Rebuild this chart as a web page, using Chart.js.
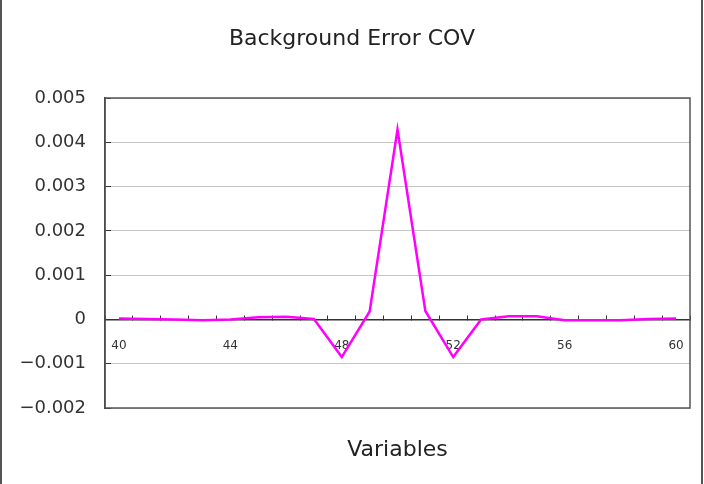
<!DOCTYPE html>
<html>
<head>
<meta charset="utf-8">
<script src="https://cdn.jsdelivr.net/npm/chart.js@4"></script>
<style>
  html, body { margin: 0; padding: 0; background: #fff; }
  #box { width: 704px; height: 484px; }
</style>
</head>
<body>
<div id="box"><canvas id="grafico" width="704" height="484"></canvas></div>
<script>
// categorie (variabili 40..60)
var variabili = ["40","41","42","43","44","45","46","47","48","49","50",
                 "51","52","53","54","55","56","57","58","59","60"];
// valori della covarianza
var covarianza = [0.00002, 0.00001, 0, -0.00002, 0, 0.00005, 0.00006, 0.00001, -0.00085, 0.00018, 0.00429,
                  0.00019, -0.00085, 0, 0.00007, 0.00007, -0.00002, -0.00002, -0.00002, 0.00001, 0.00002];
var etichetteX = ["40","44","48","52","56","60"];
var yMin = -0.002, yMax = 0.005, yPasso = 0.001;

var font = "'DejaVu Sans', sans-serif";

// cornice esterna e bordo dell'area del grafico
var cornice = {
    id: "cornice",
    beforeDraw: function(chart){
        let ctx = chart.ctx;
        ctx.save();
        ctx.fillStyle = "#fff";
        ctx.fillRect(0, 0, chart.width, chart.height);
        ctx.restore();
    },
    afterDraw: function(chart){
        let ctx = chart.ctx, a = chart.chartArea;
        ctx.save();
        ctx.strokeStyle = "#555";
        ctx.lineWidth = 1.5;
        ctx.strokeRect(a.left, a.top, a.right - a.left, a.bottom - a.top);
        ctx.fillStyle = "#555";
        ctx.fillRect(0, 0, 2, chart.height);
        ctx.fillRect(701, 0, 2, chart.height);
        ctx.restore();
    }
};

function formatoY(v){
    if (Math.abs(v) < 1e-9) return "0";
    let s = Math.abs(v).toFixed(3);
    return v < 0 ? "\u2212" + s : s;
}

window.onload = function(){
    let canvas = document.getElementById("grafico");
    new Chart(canvas, {
        type: "line",
        data: {
            labels: variabili,
            datasets: [{
                label: "COV",
                data: covarianza,
                borderColor: "#ff00ff",
                borderWidth: 2.5,
                pointRadius: 0,
                tension: 0,
                fill: false
            }]
        },
        options: {
            responsive: false,
            animation: false,
            layout: { padding: { left: 14, right: 14, top: 0, bottom: 0 } },
            plugins: {
                legend: { display: false },
                tooltip: { enabled: false },
                title: {
                    display: true,
                    text: "Background Error COV",
                    color: "#222",
                    font: { family: font, size: 22, weight: "normal" },
                    padding: { top: 26, bottom: 45.6 }
                },
                subtitle: {
                    display: true,
                    position: "bottom",
                    fullSize: false,
                    text: "Variables",
                    color: "#222",
                    font: { family: font, size: 22, weight: "normal" },
                    padding: { top: 28.8, bottom: 20.8 }
                }
            },
            scales: {
                x: {
                    type: "category",
                    position: { y: 0 },
                    offset: true,
                    afterFit: function(scale){ scale.paddingLeft = 0; scale.paddingRight = 0; },
                    grid: {
                        display: true,
                        offset: true,
                        drawOnChartArea: false,
                        drawTicks: true,
                        tickLength: -5,
                        tickColor: "#333",
                        tickWidth: 1
                    },
                    border: { display: true, color: "#333", width: 1.5 },
                    ticks: {
                        autoSkip: false,
                        maxRotation: 0,
                        padding: 24,
                        color: "#333",
                        font: { family: font, size: 12 },
                        callback: function(val, i){
                            let l = this.getLabelForValue(val);
                            return etichetteX.includes(l) ? l : "";
                        }
                    }
                },
                y: {
                    min: yMin,
                    max: yMax,
                    afterFit: function(scale){ scale.width = 91; },
                    grid: {
                        color: "#c4c4c4",
                        lineWidth: 1,
                        drawTicks: true,
                        tickLength: -6,
                        tickColor: "#333"
                    },
                    border: { display: true, color: "#333", width: 1.5 },
                    ticks: {
                        stepSize: yPasso,
                        padding: 25,
                        color: "#333",
                        font: { family: font, size: 18 },
                        callback: formatoY
                    }
                }
            }
        },
        plugins: [cornice]
    });
};
</script>
</body>
</html>
